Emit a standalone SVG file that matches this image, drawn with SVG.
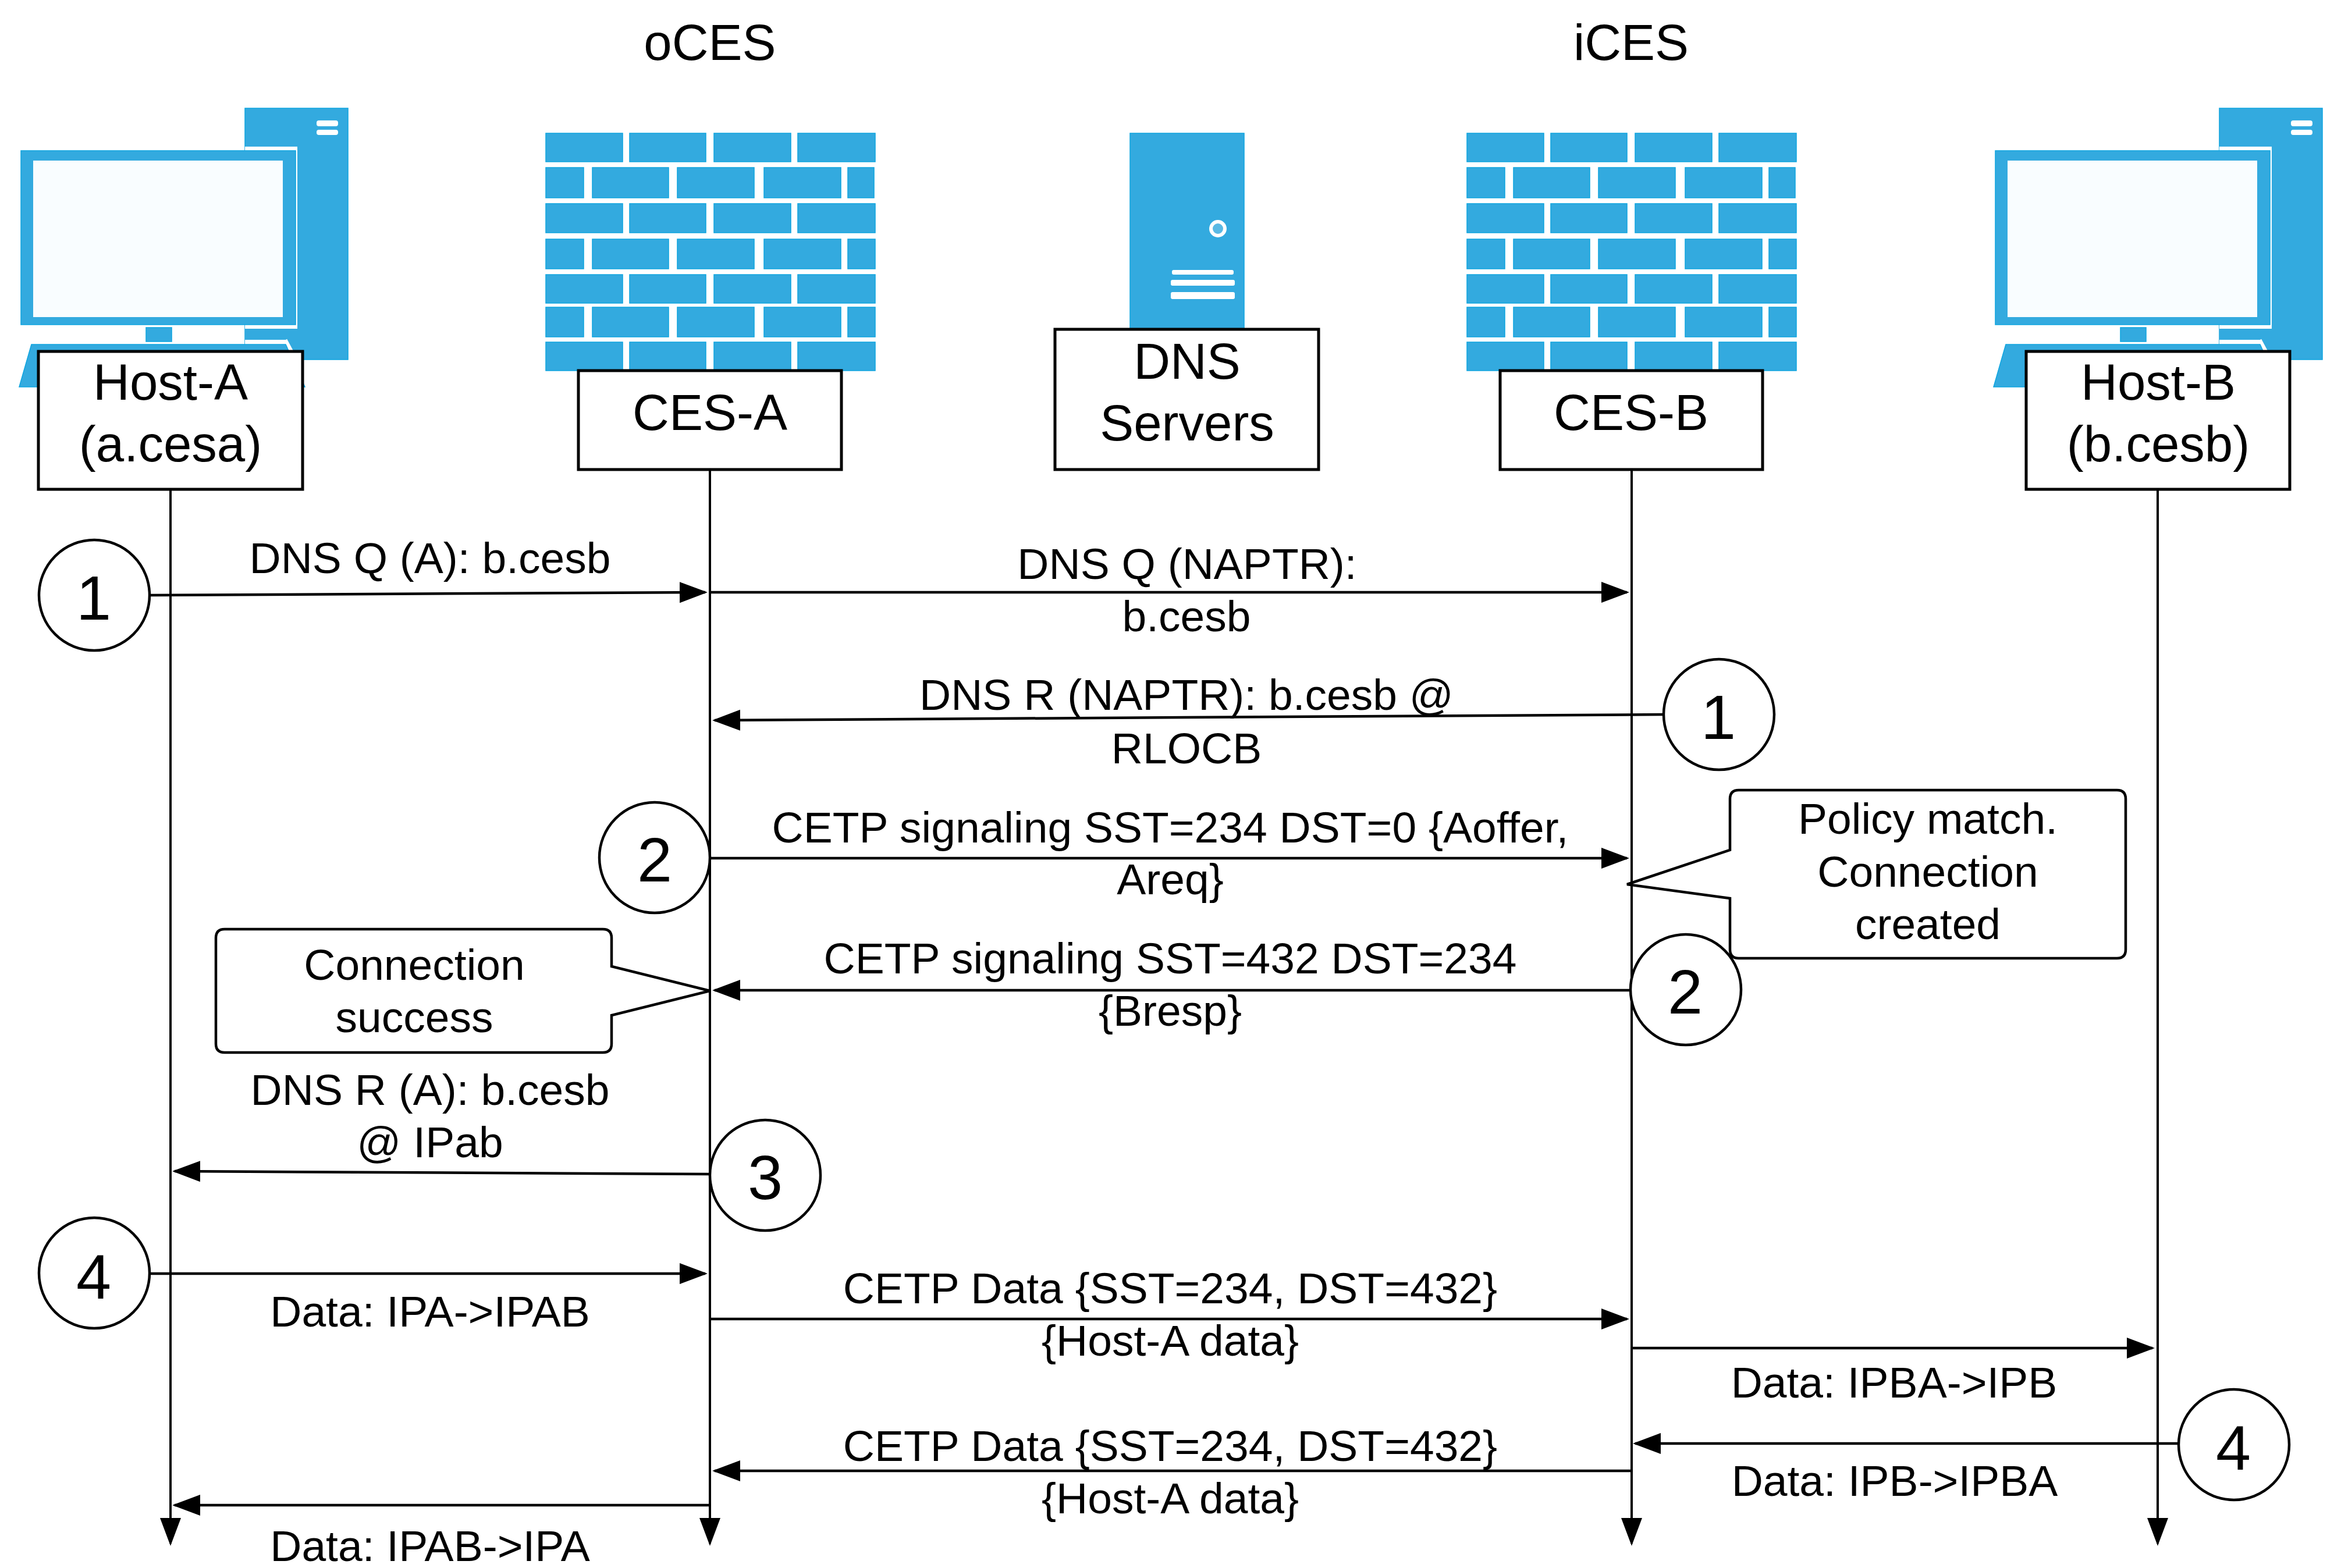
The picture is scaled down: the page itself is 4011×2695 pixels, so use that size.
<svg xmlns="http://www.w3.org/2000/svg" xmlns:xlink="http://www.w3.org/1999/xlink" width="4011" height="2695" viewBox="0 0 4011 2695">
<style>
text{font-family:"Liberation Sans",Arial,sans-serif;fill:#000;text-anchor:middle}
.t{font-size:87px}
.l{font-size:75px}
.n{font-size:108px}
.box{fill:#fff;stroke:#000;stroke-width:5}
.ln{fill:none;stroke:#000;stroke-width:4.5}
.life{fill:none;stroke:#000;stroke-width:4}
.circ{fill:#fff;stroke:#000;stroke-width:4.5}
.call{fill:#fff;stroke:#000;stroke-width:4.5;stroke-linejoin:miter}
.ic{fill:#33aadf;stroke:#0fa5e0;stroke-width:1.5}
.w{fill:#fff}
.scr{fill:#f9fdff}
</style>
<defs>
<marker id="a" markerUnits="userSpaceOnUse" markerWidth="60" markerHeight="44" refX="44" refY="22" orient="auto">
<path d="M0,4 L48,22 L0,40 Z" fill="#000"/>
</marker>
<g id="fw">
<path class="ic" d="M938,229h132v49h-132zM1082,229h131v49h-131zM1227,229h132v49h-132zM1371,229h133v49h-133zM938,288h65v52h-65zM1018,288h131v52h-131zM1164,288h132v52h-132zM1313,288h132v52h-132zM1457,288h45v52h-45zM938,350h132v50h-132zM1082,350h131v50h-131zM1227,350h132v50h-132zM1371,350h133v50h-133zM938,411h65v51h-65zM1018,411h131v51h-131zM1164,411h132v51h-132zM1313,411h132v51h-132zM1457,411h47v51h-47zM938,472h132v49h-132zM1082,472h131v49h-131zM1227,472h132v49h-132zM1371,472h133v49h-133zM938,528h65v51h-65zM1018,528h131v51h-131zM1164,528h132v51h-132zM1313,528h132v51h-132zM1457,528h47v51h-47zM938,588h132v49h-132zM1082,588h131v49h-131zM1227,588h132v49h-132zM1371,588h133v49h-133z"/>
</g>
<g id="pc">
<rect class="ic" x="421" y="186" width="177" height="432"/>
<rect class="w" x="544" y="207" width="37" height="10" rx="4"/>
<rect class="w" x="544" y="223" width="37" height="9" rx="4"/>
<path class="w" d="M421,252H511V565H421V584H491L506,612H421Z"/>
<path class="ic" d="M421,565h90v19h-90z" style="stroke:none"/>
<rect class="ic" x="36" y="259" width="472" height="299"/>
<rect class="scr" x="57" y="276" width="429" height="269"/>
<rect class="ic" x="251" y="563" width="44" height="24"/>
<path class="ic" d="M54,592H491L524,665H33Z"/>
<path d="M491,584L506,612" stroke="#fff" stroke-width="5" fill="none"/>
</g>
</defs>

<g id="title-oCES"><text class="t" x="1220" y="103">oCES</text></g>
<g id="title-iCES"><text class="t" x="2803" y="103">iCES</text></g>

<g id="connectors">
<path class="life" d="M293,841V2653" marker-end="url(#a)"/>
<path class="life" d="M1220,807V2653" marker-end="url(#a)"/>
<path class="life" d="M2804,807V2653" marker-end="url(#a)"/>
<path class="life" d="M3708,841V2653" marker-end="url(#a)"/>
<path class="ln" d="M256,1023L1212,1018" marker-end="url(#a)"/>
<path class="ln" d="M1220,1018H2796" marker-end="url(#a)"/>
<path class="ln" d="M2860,1228L1228,1238" marker-end="url(#a)"/>
<path class="ln" d="M1220,1475H2796" marker-end="url(#a)"/>
<path class="ln" d="M2804,1702H1228" marker-end="url(#a)"/>
<path class="ln" d="M1220,2018L300,2013" marker-end="url(#a)"/>
<path class="ln" d="M257,2189H1212" marker-end="url(#a)"/>
<path class="ln" d="M1220,2267H2796" marker-end="url(#a)"/>
<path class="ln" d="M2804,2317H3699" marker-end="url(#a)"/>
<path class="ln" d="M3745,2481H2810" marker-end="url(#a)"/>
<path class="ln" d="M2804,2528H1228" marker-end="url(#a)"/>
<path class="ln" d="M1220,2587H300" marker-end="url(#a)"/>
</g>

<g id="host-a">
<use xlink:href="#pc" href="#pc"/>
<rect class="box" x="66" y="604" width="454" height="237"/>
<text class="t" x="293" y="687">Host-A</text>
<text class="t" x="293" y="793">(a.cesa)</text>
</g>
<g id="ces-a">
<use xlink:href="#fw" href="#fw"/>
<rect class="box" x="994" y="637" width="452" height="170"/>
<text class="t" x="1220" y="739">CES-A</text>
</g>
<g id="dns-servers">
<rect class="ic" x="1942" y="229" width="196" height="340"/>
<circle cx="2093" cy="393" r="12" fill="#5ab9e4" stroke="#fff" stroke-width="6"/>
<rect class="w" x="2014" y="464" width="106" height="8" rx="3"/>
<rect class="w" x="2012" y="481" width="110" height="10" rx="3"/>
<rect class="w" x="2012" y="502" width="110" height="12" rx="3"/>
<rect class="box" x="1813" y="566" width="453" height="241"/>
<text class="t" x="2040" y="651">DNS</text>
<text class="t" x="2040" y="757">Servers</text>
</g>
<g id="ces-b">
<use xlink:href="#fw" href="#fw" x="1583"/>
<rect class="box" x="2578" y="637" width="451" height="170"/>
<text class="t" x="2803" y="739">CES-B</text>
</g>
<g id="host-b">
<use xlink:href="#pc" href="#pc" x="3393"/>
<rect class="box" x="3482" y="604" width="453" height="237"/>
<text class="t" x="3709" y="687">Host-B</text>
<text class="t" x="3709" y="793">(b.cesb)</text>
</g>

<g id="callout-success">
<path class="call" d="M386,1597H1036Q1051,1597 1051,1612V1661L1220,1703L1051,1745V1794Q1051,1809 1036,1809H386Q371,1809 371,1794V1612Q371,1597 386,1597Z"/>
<text class="l" x="712" y="1684">Connection</text>
<text class="l" x="712" y="1774">success</text>
</g>
<g id="callout-policy">
<path class="call" d="M2988,1358H3638Q3653,1358 3653,1373V1632Q3653,1647 3638,1647H2988Q2973,1647 2973,1632V1544L2796,1520L2973,1461V1373Q2973,1358 2988,1358Z"/>
<text class="l" x="3313" y="1433">Policy match.</text>
<text class="l" x="3313" y="1524">Connection</text>
<text class="l" x="3313" y="1614">created</text>
</g>

<g id="step-1a"><circle class="circ" cx="162" cy="1023" r="95"/><text class="n" x="161" y="1065">1</text></g>
<g id="step-1b"><circle class="circ" cx="2954" cy="1228" r="95"/><text class="n" x="2953" y="1270">1</text></g>
<g id="step-2a"><circle class="circ" cx="1125" cy="1474" r="95"/><text class="n" x="1125" y="1515">2</text></g>
<g id="step-2b"><circle class="circ" cx="2897" cy="1701" r="95"/><text class="n" x="2896" y="1742">2</text></g>
<g id="step-3"><circle class="circ" cx="1315" cy="2020" r="95"/><text class="n" x="1315" y="2061">3</text></g>
<g id="step-4a"><circle class="circ" cx="162" cy="2188" r="95"/><text class="n" x="161" y="2232">4</text></g>
<g id="step-4b"><circle class="circ" cx="3839" cy="2483" r="95"/><text class="n" x="3838" y="2526">4</text></g>

<g id="labels">
<text class="l" x="739" y="985">DNS Q (A): b.cesb</text>
<text class="l" x="2040" y="995">DNS Q (NAPTR):</text>
<text class="l" x="2039" y="1085">b.cesb</text>
<text class="l" x="2039" y="1220">DNS R (NAPTR): b.cesb @</text>
<text class="l" x="2039" y="1312">RLOCB</text>
<text class="l" x="2011" y="1448">CETP signaling SST=234 DST=0 {Aoffer,</text>
<text class="l" x="2011" y="1537">Areq}</text>
<text class="l" x="2011" y="1673">CETP signaling SST=432 DST=234</text>
<text class="l" x="2011" y="1763">{Bresp}</text>
<text class="l" x="739" y="1899">DNS R (A): b.cesb</text>
<text class="l" x="739" y="1989">@ IPab</text>
<text class="l" x="739" y="2280">Data: IPA-&gt;IPAB</text>
<text class="l" x="2011" y="2240">CETP Data {SST=234, DST=432}</text>
<text class="l" x="2011" y="2330">{Host-A data}</text>
<text class="l" x="3255" y="2402">Data: IPBA-&gt;IPB</text>
<text class="l" x="2011" y="2511">CETP Data {SST=234, DST=432}</text>
<text class="l" x="2011" y="2601">{Host-A data}</text>
<text class="l" x="3256" y="2571">Data: IPB-&gt;IPBA</text>
<text class="l" x="739" y="2683">Data: IPAB-&gt;IPA</text>
</g>
</svg>
